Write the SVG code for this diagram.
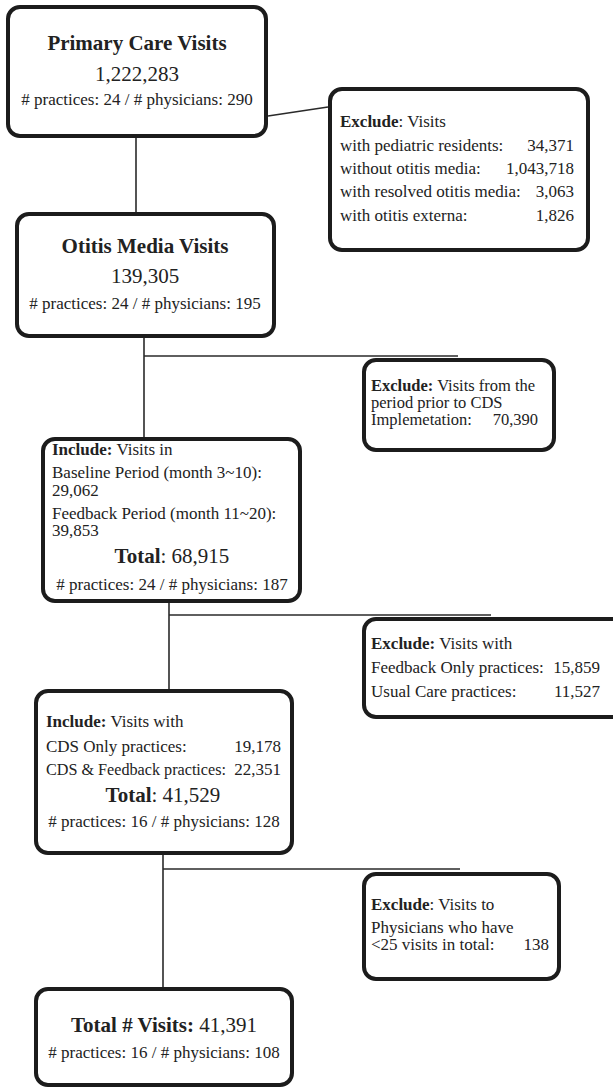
<svg xmlns="http://www.w3.org/2000/svg" width="613" height="1088" viewBox="0 0 613 1088">
<style>
.box{fill:#fff;stroke:#1c1c1c;stroke-width:4}
.ln{stroke:#2a2a2a;stroke-width:1.6;fill:none}
text{font-family:"Liberation Serif","Times New Roman",serif;fill:#222;font-size:17px}
.t{font-size:21px;font-weight:bold}
.n{font-size:21px}
.big{font-size:21px}
.c{text-anchor:middle}
.r{text-anchor:end}
.b{font-weight:bold}
.s{font-size:16.5px}
</style>
<rect width="613" height="1088" fill="#fff"/>
<g id="connectors">
<line class="ln" x1="268" y1="116" x2="328" y2="107"/>
<line class="ln" x1="136" y1="138" x2="136" y2="212"/>
<line class="ln" x1="144" y1="338" x2="144" y2="437"/>
<line class="ln" x1="144" y1="356" x2="458" y2="356"/>
<line class="ln" x1="169" y1="603" x2="169" y2="689"/>
<line class="ln" x1="169" y1="615" x2="491" y2="615"/>
<line class="ln" x1="163" y1="855" x2="163" y2="987"/>
<line class="ln" x1="163" y1="869" x2="460" y2="869"/>
</g>
<g id="primary">
<rect class="box" x="8" y="7" width="258" height="129" rx="12"/>
<text class="t c" x="137" y="50">Primary Care Visits</text>
<text class="n c" x="137" y="81">1,222,283</text>
<text class="c" x="137" y="105"># practices: 24 / # physicians: 290</text>
</g>
<g id="exclude1">
<rect class="box" x="330" y="89" width="258" height="161" rx="12"/>
<text x="340" y="127"><tspan class="b">Exclude</tspan>: Visits</text>
<text x="340" y="151">with pediatric residents:</text>
<text class="r" x="574" y="151">34,371</text>
<text x="340" y="174">without otitis media:</text>
<text class="r" x="574" y="174">1,043,718</text>
<text x="340" y="197">with resolved otitis media:</text>
<text class="r" x="574" y="197">3,063</text>
<text x="340" y="221">with otitis externa:</text>
<text class="r" x="574" y="221">1,826</text>
</g>
<g id="otitis">
<rect class="box" x="17" y="214" width="257" height="122" rx="12"/>
<text class="t c" x="145" y="253">Otitis Media Visits</text>
<text class="n c" x="145" y="283">139,305</text>
<text class="c" x="145" y="309"># practices: 24 / # physicians: 195</text>
</g>
<g id="exclude2">
<rect class="box" x="364" y="360" width="190" height="90" rx="12"/>
<text class="s" x="371" y="391"><tspan class="b">Exclude:</tspan> Visits from the</text>
<text class="s" x="371" y="408">period prior to CDS</text>
<text class="s" x="371" y="425">Implemetation:</text>
<text class="s r" x="538" y="425">70,390</text>
</g>
<g id="include1">
<rect class="box" x="43" y="439" width="257" height="162" rx="12"/>
<text x="52" y="455"><tspan class="b">Include:</tspan> Visits in</text>
<text x="52" y="478">Baseline Period (month 3~10):</text>
<text x="52" y="496">29,062</text>
<text x="52" y="519">Feedback Period (month 11~20):</text>
<text x="52" y="536">39,853</text>
<text class="big c" x="172" y="563"><tspan class="b">Total</tspan>: 68,915</text>
<text class="c" x="172" y="590"># practices: 24 / # physicians: 187</text>
</g>
<g id="exclude3">
<rect class="box" x="364" y="619" width="262" height="98" rx="12"/>
<text x="371" y="649"><tspan class="b">Exclude:</tspan> Visits with</text>
<text x="371" y="673">Feedback Only practices:</text>
<text class="r" x="600" y="673">15,859</text>
<text x="371" y="697">Usual Care practices:</text>
<text class="r" x="600" y="697">11,527</text>
</g>
<g id="include2">
<rect class="box" x="36" y="691" width="256" height="162" rx="12"/>
<text x="46" y="727"><tspan class="b">Include:</tspan> Visits with</text>
<text x="46" y="752">CDS Only practices:</text>
<text class="r" x="281" y="752">19,178</text>
<text x="46" y="775" textLength="180" lengthAdjust="spacingAndGlyphs">CDS &amp; Feedback practices:</text>
<text class="r" x="281" y="775">22,351</text>
<text class="big c" x="163" y="802"><tspan class="b">Total</tspan>: 41,529</text>
<text class="c" x="164" y="827"># practices: 16 / # physicians: 128</text>
</g>
<g id="exclude4">
<rect class="box" x="364" y="874" width="195" height="105" rx="12"/>
<text x="371" y="910"><tspan class="b">Exclude</tspan>: Visits to</text>
<text x="371" y="933">Physicians who have</text>
<text x="371" y="950">&lt;25 visits in total:</text>
<text class="r" x="549" y="950">138</text>
</g>
<g id="final">
<rect class="box" x="36" y="989" width="256" height="96" rx="12"/>
<text class="big c" x="164" y="1032"><tspan class="b">Total # Visits:</tspan> 41,391</text>
<text class="c" x="164" y="1058"># practices: 16 / # physicians: 108</text>
</g>
</svg>
